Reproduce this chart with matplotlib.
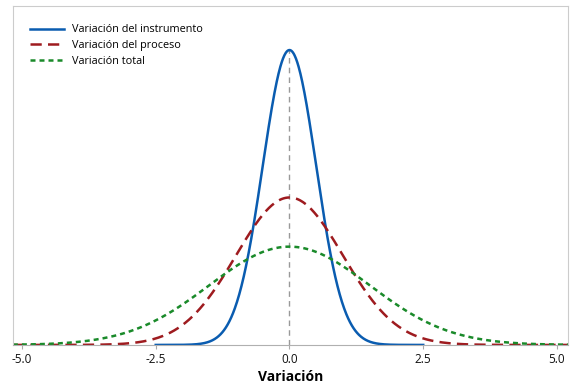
import numpy as np
import matplotlib
matplotlib.use("Agg")
import matplotlib.pyplot as plt

plt.rcParams['font.family'] = ['Open Sans', 'DejaVu Sans']

# series: (label, mean, std dev, x-range)
labels = ["Variación del instrumento", "Variación del proceso", "Variación total"]
means = [0.0, 0.0, 0.0]
sigmas = [0.5, 1.0, 1.5]
x_ranges = [(-2.5, 2.5), (-5.17, 5.21), (-5.17, 5.21)]
colors = ["#0a5cb0", "#9e1b1f", "#1a8a2a"]
tick_vals = [-5.0, -2.5, 0.0, 2.5, 5.0]
tick_labels = ["-5.0", "-2.5", "0.0", "2.5", "5.0"]


def normal_pdf(x, mu, s):
    return np.exp(-0.5 * ((x - mu) / s) ** 2) / (s * np.sqrt(2 * np.pi))


fig = plt.figure(figsize=(5.72, 3.88), dpi=100)
ax = fig.add_axes([0.0227, 0.111, 0.9703, 0.8735])

styles = [dict(ls="-"), dict(ls=(0, (4.5, 2.5))), dict(ls=(0, (2, 1.6)))]
for lab, mu, s, (a, b), c, st in zip(labels, means, sigmas, x_ranges, colors, styles):
    x = np.linspace(a, b, 600)
    ax.plot(x, normal_pdf(x, mu, s), color=c, lw=1.8, label=lab, **st)

# reference line at the mean, up to the tallest peak
ax.vlines(0, 0, normal_pdf(0, 0, sigmas[0]), colors="#999999", lw=1.0,
          linestyles=(0, (4, 3)), zorder=0)

ax.set_xlim(-5.168, 5.206)
ax.set_ylim(0, 0.917)
ax.set_yticks([])
ax.set_xticks(tick_vals)
ax.set_xticklabels(tick_labels, fontsize=8.5, color="#111111")
ax.tick_params(axis="x", length=3, color="#aaaaaa", pad=3)
ax.set_xlabel("Variación", fontsize=10, fontweight="bold", labelpad=3)

for side in ["left", "top", "right"]:
    ax.spines[side].set_color("#cccccc")
ax.spines["bottom"].set_color("#b0b0b0")

ax.legend(loc="upper left", frameon=False, fontsize=7.8, handlelength=3.1,
          handletextpad=0.7, borderaxespad=0.6, labelspacing=0.45,
          bbox_to_anchor=(0.012, 0.978))

fig.savefig("out.png", dpi=100)
